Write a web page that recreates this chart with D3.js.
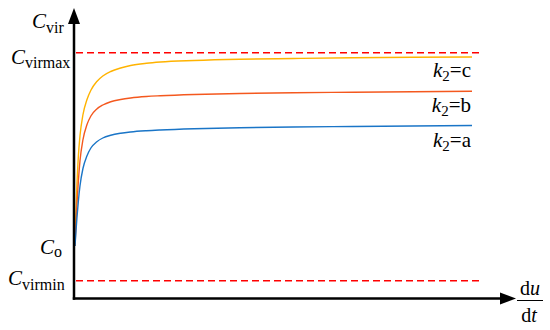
<!DOCTYPE html>
<html><head><meta charset="utf-8">
<script src="https://cdn.jsdelivr.net/npm/d3@7"></script>
<style>body{margin:0;background:#fff}svg{display:block}</style>
</head><body>
<svg id="c" width="550" height="330"></svg>
<script>
// du/dt sample positions
const xs = [0, 0.25, 0.5, 0.85, 1.25, 2, 3, 4, 5.5, 7, 9, 11.5, 14, 18, 21.5, 30, 41.5, 55, 70, 85, 100];
// C_vir values per k2 series
const seriesC = [21, 35, 46, 57, 65, 73.5, 79.5, 83.3, 86.8, 89, 90.8, 92.2, 93.2, 94.1, 94.6, 95.2, 95.7, 96, 96.3, 96.5, 96.6];
const seriesB = [21, 30, 38, 47, 55, 63.5, 69.5, 73, 75.8, 77.4, 78.7, 79.6, 80.2, 80.8, 81.1, 81.6, 82, 82.3, 82.5, 82.7, 82.9];
const seriesA = [21, 27, 32.5, 39, 45, 52, 57, 60.2, 62.7, 64.2, 65.3, 66.1, 66.6, 67.1, 67.4, 67.9, 68.3, 68.6, 68.8, 69, 69.2];
const seriesNames = ["c", "b", "a"];
const seriesColors = ["#FFB300", "#F4581E", "#1A75C7"];
const levels = {virmax: 98.3, o: 21, virmin: 7.1};

const FONT = "Liberation Serif";
const svg = d3.select("#c");
const x = d3.scaleLinear().domain([0, 100]).range([75, 472]);
const y = d3.scaleLinear().domain([0, 110]).range([298.5, 23.5]);
const x0 = 74, yAxis = 298.5;

// dashed limits
[levels.virmax, levels.virmin].forEach(v => {
  svg.append("line").attr("x1", 76).attr("x2", 483).attr("y1", y(v)).attr("y2", y(v))
    .attr("stroke", "#FF0000").attr("stroke-width", 1.5).attr("stroke-dasharray", "7,4");
});

// curves
const line = d3.line().x((d, i) => x(xs[i])).y(d => y(d)).curve(d3.curveMonotoneX);
[seriesC, seriesB, seriesA].forEach((s, i) => {
  svg.append("path").attr("d", line(s)).attr("fill", "none")
    .attr("stroke", seriesColors[i]).attr("stroke-width", 1.4);
});

// axes
svg.append("line").attr("x1", x0).attr("x2", x0).attr("y1", yAxis + 1.2).attr("y2", 20)
  .attr("stroke", "#000").attr("stroke-width", 2.5);
svg.append("line").attr("x1", x0 - 1.2).attr("x2", 503).attr("y1", yAxis).attr("y2", yAxis)
  .attr("stroke", "#000").attr("stroke-width", 2.5);
svg.append("path").attr("d", `M${x0},8 L${x0 - 6},24 L${x0 + 6},24 Z`).attr("fill", "#000");
svg.append("path").attr("d", `M516,${yAxis} L500,${yAxis - 6} L500,${yAxis + 6} Z`).attr("fill", "#000");

function txt(xp, yp, size) {
  return svg.append("text").attr("x", xp).attr("y", yp).style("font-family", FONT)
    .style("font-size", size + "px").attr("fill", "#000");
}

// y labels
function cLabel(xp, yb, sub, subDy) {
  const t = txt(xp, yb, 21);
  t.append("tspan").style("font-style", "italic").text("C");
  t.append("tspan").style("font-size", "16px").attr("dy", subDy).text(sub);
}
cLabel(32, 28, "vir", 5);
cLabel(11, 64, "virmax", 4);
cLabel(40, 254, "o", 3);
cLabel(8, 285, "virmin", 5);

// series labels
seriesNames.forEach((n, i) => {
  const t = txt(471, [76.5, 111.5, 146.5][i], 21).attr("text-anchor", "end");
  t.append("tspan").style("font-style", "italic").text("k");
  t.append("tspan").style("font-size", "15px").attr("dy", 4).text("2");
  t.append("tspan").attr("dy", -4).text("=" + n);
});

// du/dt
const fx = 530;
const tu = txt(fx, 295, 20).attr("text-anchor", "middle");
tu.append("tspan").text("d");
tu.append("tspan").style("font-style", "italic").text("u");
svg.append("line").attr("x1", 517).attr("x2", 543).attr("y1", 300.5).attr("y2", 300.5)
  .attr("stroke", "#000").attr("stroke-width", 1);
const tt = txt(fx - 1, 321.5, 20).attr("text-anchor", "middle");
tt.append("tspan").text("d");
tt.append("tspan").style("font-style", "italic").text("t");
</script>
</body></html>
